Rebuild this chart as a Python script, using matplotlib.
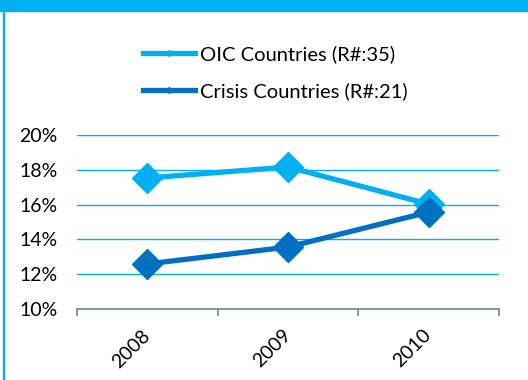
import matplotlib.pyplot as plt
from matplotlib.patches import Rectangle
from matplotlib.lines import Line2D
from matplotlib.ticker import PercentFormatter, FixedLocator

plt.rcParams['font.family'] = ['Lato', 'DejaVu Sans']

years = ['2008', '2009', '2010']
oic = [0.1753, 0.1816, 0.1603]
crisis = [0.1259, 0.1356, 0.1557]
oic_label = 'OIC Countries (R#:35)'
crisis_label = 'Crisis Countries (R#:21)'

light = '#00B0F0'
dark = '#0070C0'

fig = plt.figure(figsize=(5.28, 3.80), dpi=100)
ax = fig.add_axes([77 / 528, 1 - 309 / 380, 422 / 528, 174 / 380])

x = range(len(years))
ax.plot(x, oic, color=light, lw=3.8, marker='D', ms=15, label=oic_label, zorder=3)
ax.plot(x, crisis, color=dark, lw=3.8, marker='D', ms=15, label=crisis_label, zorder=4)

ax.set_xlim(-0.5, len(years) - 0.5)
ax.set_ylim(0.10, 0.20)
ax.set_yticks([0.10, 0.12, 0.14, 0.16, 0.18, 0.20])
ax.yaxis.set_major_formatter(PercentFormatter(1.0, decimals=0))
ax.set_xticks(list(x))
ax.set_xticklabels(years, rotation=45, fontsize=14, ha='right', va='center',
                   rotation_mode='anchor')
ax.tick_params(axis='x', length=0, pad=17)
ax.xaxis.set_minor_locator(FixedLocator([-0.5, 0.5, 1.5, 2.5]))
ax.tick_params(axis='x', which='minor', length=5, color='#808080', width=1.2)
ax.tick_params(axis='y', length=0, labelsize=14, pad=14)

ax.grid(axis='y', color=light, lw=1)
ax.set_axisbelow(True)
for s in ['left', 'right', 'top']:
    ax.spines[s].set_visible(False)
ax.spines['bottom'].set_color('#808080')
ax.spines['bottom'].set_linewidth(1.2)
ax.spines['bottom'].set_zorder(5)

handles = [Line2D([], [], color=light, lw=3.8, marker='D', ms=3),
           Line2D([], [], color=dark, lw=3.8, marker='D', ms=3)]
fig.legend(handles, [oic_label, crisis_label], loc='upper left',
           bbox_to_anchor=(125 / 528, 1 - 27 / 380), frameon=False,
           fontsize=14.5, labelspacing=0.95, handlelength=2.6, handletextpad=0.2)

# header bar and left border
fig.add_artist(Rectangle((0, 1 - 11 / 380), 1, 11 / 380, transform=fig.transFigure,
                         color=light, zorder=10))
fig.add_artist(Rectangle((3 / 528, 0), 1.2 / 528, 1, transform=fig.transFigure,
                         color=light, zorder=10))

fig.savefig('out.png', dpi=100)
